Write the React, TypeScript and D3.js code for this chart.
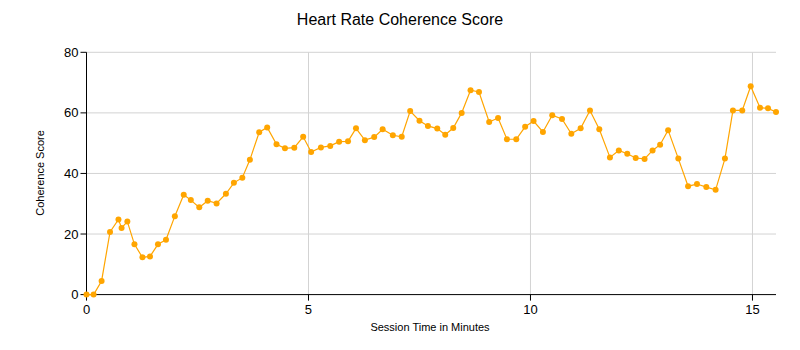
import React from "react";
import * as d3 from "d3";

const title = "Heart Rate Coherence Score";
const xLabel = "Session Time in Minutes";
const yLabel = "Coherence Score";

const minutes = [
  0, 0.16, 0.34, 0.53, 0.72, 0.79, 0.92, 1.08, 1.26, 1.43, 1.61, 1.79, 1.99, 2.19, 2.35, 2.54, 2.73, 2.93, 3.14, 3.32, 3.51,
  3.68, 3.89, 4.07, 4.28, 4.47, 4.68, 4.88, 5.06, 5.28, 5.49, 5.69, 5.89, 6.07, 6.27, 6.48, 6.67, 6.9, 7.1, 7.29, 7.5, 7.69,
  7.9, 8.08, 8.26, 8.45, 8.65, 8.84, 9.07, 9.27, 9.47, 9.68, 9.88, 10.07, 10.28, 10.49, 10.71, 10.92, 11.13, 11.34, 11.55,
  11.79, 11.99, 12.18, 12.37, 12.57, 12.75, 12.92, 13.1, 13.33, 13.55, 13.75, 13.96, 14.17, 14.38, 14.56, 14.77, 14.96, 15.17, 15.35, 15.53,
];
const scores = [
  0, 0, 4.5, 20.7, 24.8, 22, 24.1, 16.6, 12.3, 12.6, 16.6, 18.1, 25.9, 33, 31.2, 28.8, 31, 30.1, 33.3, 36.9, 38.6,
  44.5, 53.6, 55.2, 49.6, 48.3, 48.5, 52.1, 47.1, 48.6, 49.1, 50.5, 50.6, 54.9, 51, 52, 54.6, 52.6, 52.1, 60.6, 57.4, 55.7,
  54.8, 52.8, 55, 60, 67.5, 66.9, 57, 58.3, 51.3, 51.3, 55.4, 57.3, 53.7, 59.2, 58, 53.1, 54.9, 60.8, 54.6,
  45.3, 47.6, 46.5, 45.1, 44.8, 47.6, 49.5, 54.3, 44.9, 35.8, 36.5, 35.5, 34.6, 44.9, 60.8, 60.8, 68.8, 61.7, 61.5, 60.3,
];
const xTicks = [0, 5, 10, 15];
const yTicks = [0, 20, 40, 60, 80];

const W = 800;
const H = 350;
const left = 86.5;
const right = 776;
const top = 52.3;
const bottom = 294.6;
const font = "'Liberation Sans', Arial, sans-serif";
const orange = "#FFA500";
const grid = "#d3d3d3";

export default function App() {
  const x = d3.scaleLinear().domain([0, 15.53]).range([left, right]);
  const y = d3.scaleLinear().domain([0, 80]).range([bottom, top]);
  const data = minutes.map((m, i) => [m, scores[i]] as [number, number]);
  const line = d3
    .line<[number, number]>()
    .x((d) => x(d[0]))
    .y((d) => y(d[1]));

  return (
    <svg width={W} height={H} style={{ position: "absolute", left: 0, top: 0, background: "#fff" }} fontFamily={font}>
      <rect width={W} height={H} fill="#fff" />
      <text x={400} y={25} textAnchor="middle" fontSize={16} fill="#000">
        {title}
      </text>
      {yTicks.filter((t) => t > 0).map((t) => (
        <line key={"gy" + t} x1={left} x2={right} y1={y(t)} y2={y(t)} stroke={grid} strokeWidth={1} />
      ))}
      {xTicks.filter((t) => t > 0).map((t) => (
        <line key={"gx" + t} x1={x(t)} x2={x(t)} y1={top} y2={bottom} stroke={grid} strokeWidth={1} />
      ))}
      <line x1={left} x2={left} y1={top} y2={bottom + 0.5} stroke="#000" strokeWidth={1} />
      <line x1={left} x2={right} y1={bottom} y2={bottom} stroke="#000" strokeWidth={1} />
      {yTicks.map((t) => (
        <g key={"ty" + t}>
          <line x1={left - 6} x2={left} y1={y(t)} y2={y(t)} stroke="#000" strokeWidth={1} />
          <text x={left - 8} y={y(t)} dy="0.35em" textAnchor="end" fontSize={13} fill="#000">
            {t}
          </text>
        </g>
      ))}
      {xTicks.map((t) => (
        <g key={"tx" + t}>
          <line x1={x(t)} x2={x(t)} y1={bottom} y2={bottom + 6} stroke="#000" strokeWidth={1} />
          <text x={x(t)} y={bottom + 19} textAnchor="middle" fontSize={13} fill="#000">
            {t}
          </text>
        </g>
      ))}
      <text x={430} y={331} textAnchor="middle" fontSize={11} fill="#000">
        {xLabel}
      </text>
      <text transform={`translate(44,173) rotate(-90)`} textAnchor="middle" fontSize={11} fill="#000">
        {yLabel}
      </text>
      <path d={line(data) || ""} fill="none" stroke={orange} strokeWidth={1.2} />
      {data.map((d, i) => (
        <circle key={i} cx={x(d[0])} cy={y(d[1])} r={3} fill={orange} />
      ))}
    </svg>
  );
}
